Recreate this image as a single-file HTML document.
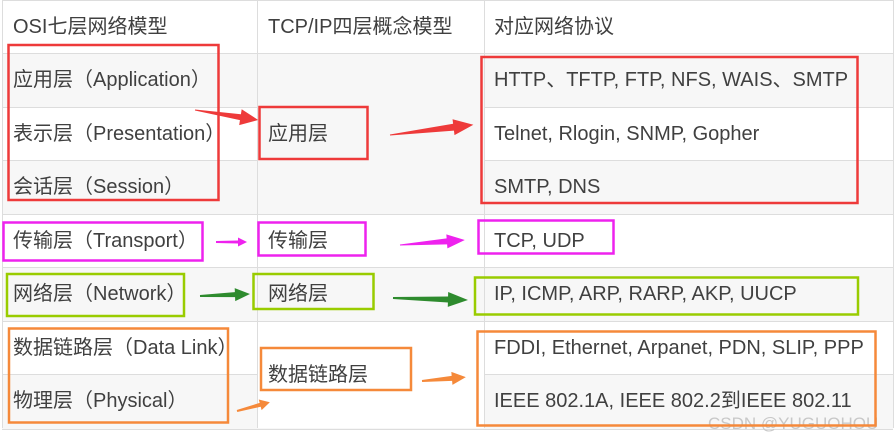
<!DOCTYPE html>
<html><head><meta charset="utf-8"><style>
body{margin:0;width:896px;height:441px;background:#fff;overflow:hidden;position:relative;font-family:"Liberation Sans","Noto Sans CJK SC",sans-serif;}
.r{position:absolute;left:2px;width:891px;border-top:1px solid #ddd;}
.g{background:#f7f7f7}
.t{position:absolute;font-size:20px;color:#404040;line-height:20px;white-space:nowrap}
.v{position:absolute;top:0;height:428px;border-left:1px solid #ddd}
svg{position:absolute;left:0;top:0}
</style></head><body>
<div class="r" style="top:0;height:53px"></div>
<div class="r g" style="top:53px;height:54px"></div>
<div class="r" style="top:107px;height:53px"></div>
<div class="r g" style="top:160px;height:54px"></div>
<div class="r" style="top:214px;height:53px"></div>
<div class="r g" style="top:267px;height:54px"></div>
<div class="r" style="top:321px;height:53px"></div>
<div class="r g" style="top:374px;height:54px;border-bottom:1px solid #ddd"></div>
<div style="position:absolute;left:258px;top:54px;width:226px;height:160px;background:#f7f7f7"></div>
<div style="position:absolute;left:258px;top:322px;width:226px;height:106px;background:#fff"></div>
<div class="v" style="left:2px"></div>
<div class="v" style="left:257px"></div>
<div class="v" style="left:484px"></div>
<div class="v" style="left:893px"></div>

<div class="t" style="left:13px;top:17px">OSI七层网络模型</div>
<div class="t" style="left:268px;top:17px">TCP/IP四层概念模型</div>
<div class="t" style="left:494px;top:17px">对应网络协议</div>
<div class="t" style="left:13px;top:70px">应用层（Application）</div>
<div class="t" style="left:13px;top:124px">表示层（Presentation）</div>
<div class="t" style="left:13px;top:177px">会话层（Session）</div>
<div class="t" style="left:13px;top:231px">传输层（Transport）</div>
<div class="t" style="left:13px;top:284px">网络层（Network）</div>
<div class="t" style="left:13px;top:338px">数据链路层（Data Link）</div>
<div class="t" style="left:13px;top:391px">物理层（Physical）</div>
<div class="t" style="left:268px;top:124px">应用层</div>
<div class="t" style="left:268px;top:231px">传输层</div>
<div class="t" style="left:268px;top:284px">网络层</div>
<div class="t" style="left:268px;top:365px">数据链路层</div>
<div class="t" style="left:494px;top:70px">HTTP、TFTP, FTP, NFS, WAIS、SMTP</div>
<div class="t" style="left:494px;top:124px">Telnet, Rlogin, SNMP, Gopher</div>
<div class="t" style="left:494px;top:177px">SMTP, DNS</div>
<div class="t" style="left:494px;top:231px">TCP, UDP</div>
<div class="t" style="left:494px;top:284px">IP, ICMP, ARP, RARP, AKP, UUCP</div>
<div class="t" style="left:494px;top:338px">FDDI, Ethernet, Arpanet, PDN, SLIP, PPP</div>
<div class="t" style="left:494px;top:391px">IEEE 802.1A, IEEE 802.2到IEEE 802.11</div>
<div class="t" style="left:708px;top:414px;font-size:17px;color:#c8c8c8">CSDN @YUGUOHOU</div>

<svg width="896" height="441" viewBox="0 0 896 441">
<g fill="none" stroke-width="2.5">
<rect x="8.5" y="45" width="210" height="155" stroke="#ee3a3a"/>
<rect x="259.5" y="107" width="108" height="52" stroke="#ee3a3a"/>
<rect x="481.5" y="57" width="376" height="146" stroke="#ee3a3a"/>
<rect x="3.5" y="222.5" width="199" height="38" stroke="#ee22ee"/>
<rect x="258.5" y="222.5" width="107" height="33" stroke="#ee22ee"/>
<rect x="478.5" y="220.5" width="135" height="33" stroke="#ee22ee"/>
<rect x="7" y="274" width="177" height="42" stroke="#99cc00"/>
<rect x="253.5" y="274" width="120" height="35" stroke="#99cc00"/>
<rect x="475" y="277.5" width="383" height="37" stroke="#99cc00"/>
<rect x="9" y="328.5" width="219" height="94" stroke="#f5893a"/>
<rect x="261" y="348" width="150" height="42" stroke="#f5893a"/>
<rect x="477.5" y="331.5" width="398" height="94" stroke="#f5893a"/>
</g>
<g fill="#ee3a3a">
<g transform="translate(195,110) rotate(9)"><polygon points="0,-0.5 46,-3 46,-8 64,0 46,8 46,3 0,0.5"/></g>
<g transform="translate(390,135) rotate(-7)"><polygon points="0,-0.5 64,-3.5 64,-8 84,0 64,8 64,3.5 0,0.5"/></g>
</g>
<g fill="#ee22ee">
<g transform="translate(216,242)"><polygon points="0,-1 22,-1.5 22,-4.5 31,0 22,4.5 22,1.5 0,1"/></g>
<g transform="translate(400,245) rotate(-4.4)"><polygon points="0,-0.5 47,-3 47,-7 65,0 47,7 47,3 0,0.5"/></g>
</g>
<g fill="#2e8b2e">
<g transform="translate(200,296) rotate(-2.3)"><polygon points="0,-1 35,-2.5 35,-6.5 50,0 35,6.5 35,2.5 0,1"/></g>
<g transform="translate(393,298) rotate(1.5)"><polygon points="0,-1 55,-3 55,-7.5 75,0 55,7.5 55,3 0,1"/></g>
</g>
<g fill="#f5893a">
<g transform="translate(237,411) rotate(-15)"><polygon points="0,-1 24,-2 24,-5.5 34,0 24,5.5 24,2 0,1"/></g>
<g transform="translate(422,381) rotate(-5)"><polygon points="0,-1 30,-2.5 30,-6.5 44,0 30,6.5 30,2.5 0,1"/></g>
</g>
</svg>
</body></html>
